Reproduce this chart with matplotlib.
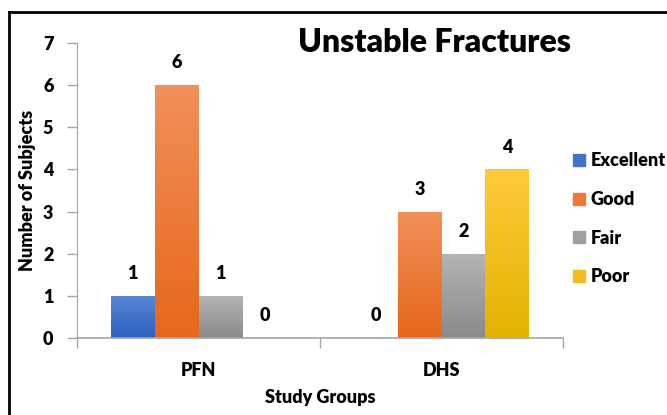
import matplotlib

matplotlib.use("Agg")
import matplotlib.pyplot as plt
import numpy as np
from matplotlib.colors import LinearSegmentedColormap
from matplotlib.lines import Line2D

groups = ["PFN", "DHS"]
outcomes = ["Excellent", "Good", "Fair", "Poor"]
excellent = [1, 0]
good = [6, 3]
fair = [1, 2]
poor = [0, 4]
yticks = [0, 1, 2, 3, 4, 5, 6, 7]

# (top colour, bottom colour) for each outcome's gradient
shades = [
    ("#5b87d6", "#2c5fbd"),
    ("#f28f5a", "#e6671a"),
    ("#b4b4b4", "#8a8a8a"),
    ("#ffca3a", "#e3b200"),
]

WT = 800
plt.rcParams["font.family"] = ["Lato", "DejaVu Sans"]
plt.rcParams["font.weight"] = WT

W, H = 667, 415
fig = plt.figure(figsize=(W / 100, H / 100), dpi=100)
ax = fig.add_axes([77 / W, 77 / H, 486 / W, 295 / H])

x = np.arange(len(groups))
width = 0.181
series = [excellent, good, fair, poor]
gradient = np.linspace(0, 1, 256).reshape(-1, 1)

handles = []
for i, (name, vals) in enumerate(zip(outcomes, series)):
    top, bottom = shades[i]
    cmap = LinearSegmentedColormap.from_list(name, [top, bottom])
    pos = x + (i - 1.5) * width
    bars = ax.bar(pos, vals, width, color=top, edgecolor="none", label=name)
    for b, v in zip(bars, vals):
        if v > 0:
            b.set_facecolor("none")
            img = ax.imshow(
                gradient,
                cmap=cmap,
                aspect="auto",
                extent=(b.get_x(), b.get_x() + b.get_width(), 0, v),
                origin="upper",
                zorder=2,
            )
            img.set_clip_path(b)
        ax.annotate(
            str(v),
            (b.get_x() + b.get_width() / 2, v),
            xytext=(0, 16),
            textcoords="offset points",
            ha="center",
            va="center",
            fontsize=13,
            fontweight=WT,
        )
    handles.append(plt.Rectangle((0, 0), 1, 1, color=cmap(0.5)))

ax.set_xlim(-0.5, 1.5)
ax.set_ylim(0, 7)
ax.set_yticks(yticks)
ax.set_xticks(x)
ax.set_xticklabels(groups)
ax.set_xticks([-0.5, 0.5, 1.5], minor=True)
ax.tick_params(axis="x", which="major", length=0, pad=17, labelsize=13)
ax.tick_params(axis="x", which="minor", length=7, color="#a6a6a6", width=1)
ax.tick_params(axis="y", length=7, color="#a6a6a6", width=1, labelsize=13, pad=10)
for lbl in ax.get_xticklabels() + ax.get_yticklabels():
    lbl.set_fontweight(WT)

for side in ["top", "right"]:
    ax.spines[side].set_visible(False)
ax.spines["left"].set_color("#a6a6a6")
ax.spines["bottom"].set_color("#a6a6a6")
ax.spines["bottom"].set_linewidth(1.2)

fig.text(28 / W, 1 - 190 / H, "Number of Subjects", rotation=90,
         fontsize=13, fontweight=WT, ha="center", va="center")
fig.text(320 / W, 1 - 397 / H, "Study Groups",
         fontsize=13, fontweight=WT, ha="center", va="center")

fig.text(435 / W, 1 - 42 / H, "Unstable Fractures",
         fontsize=23, fontweight=WT, ha="center", va="center")

fig.legend(
    handles,
    outcomes,
    loc="upper left",
    bbox_to_anchor=(566 / W, 1 - 145 / H),
    frameon=False,
    handlelength=0.65,
    handleheight=0.65,
    handletextpad=0.3,
    labelspacing=1.2,
    borderaxespad=0,
    prop={"weight": WT, "size": 13},
)

# outer frame around the chart area
fig.add_artist(Line2D([9 / W, 9 / W], [0, 1 - 12 / H], color="black", lw=2,
                      transform=fig.transFigure))
fig.add_artist(Line2D([9 / W, 1], [1 - 12 / H, 1 - 12 / H], color="black", lw=2,
                      transform=fig.transFigure))

fig.savefig("out.png", dpi=100)
